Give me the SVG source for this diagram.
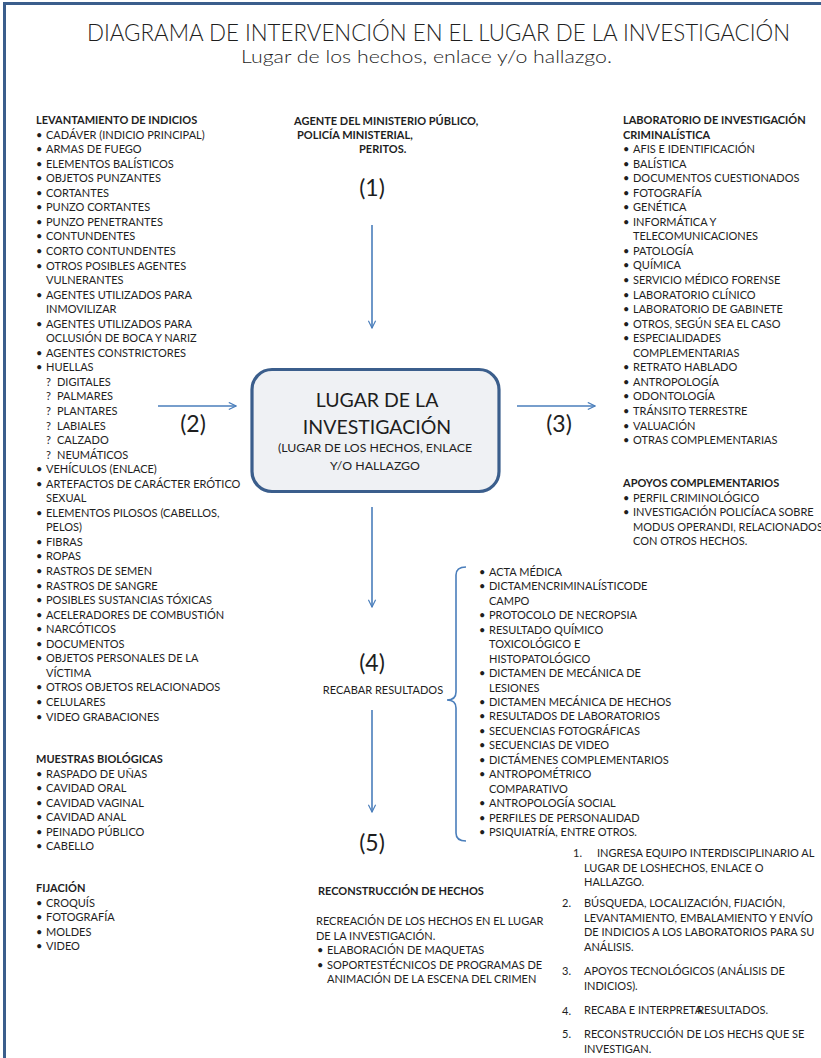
<svg xmlns="http://www.w3.org/2000/svg" width="821" height="1058" viewBox="0 0 821 1058">
  <defs>
    <style>
      .t { font-family: Lato, "Liberation Sans", sans-serif; font-size: 11px; fill: #1e1e1e; }
      .b { font-weight: bold; }
      .big { font-size: 19.5px; }
      .mid { font-size: 12.3px; }
      .num { font-family: Lato, "Liberation Sans", sans-serif; font-size: 23px; fill: #1e1e1e; }
      .ttl { font-family: Lato, "Liberation Sans", sans-serif; font-weight: 300; fill: #1e1e1e; }
      .arrow { stroke: #4A7EBB; stroke-width: 1.6; fill: none; marker-end: url(#open); }
      .brace { stroke: #4A7EBB; stroke-width: 1.6; fill: none; }
    </style>
    <marker id="open" viewBox="0 0 10 10" refX="9" refY="5" markerWidth="9" markerHeight="9" markerUnits="userSpaceOnUse" orient="auto">
      <path d="M1,1 L9,5 L1,9" fill="none" stroke="#4A7EBB" stroke-width="1.3"/>
    </marker>
  </defs>

  <rect width="821" height="1058" fill="#ffffff"/>
  <!-- page frame -->
  <path d="M4.5,1058 L4.5,3.5 L821,3.5" fill="none" stroke="#3B5E8C" stroke-width="3"/>

  <!-- title -->
  <g id="title">
    <text class="ttl" x="87" y="41" font-size="23" textLength="703" lengthAdjust="spacingAndGlyphs">DIAGRAMA DE INTERVENCIÓN EN EL LUGAR DE LA INVESTIGACIÓN</text>
    <text class="ttl" x="241" y="63" font-size="17" textLength="371" lengthAdjust="spacingAndGlyphs">Lugar de los hechos, enlace y/o hallazgo.</text>
  </g>

  <!-- connectors -->
  <g id="connectors">
    <line class="arrow" x1="372" y1="225" x2="372" y2="328"/>
    <line class="arrow" x1="158" y1="406" x2="236" y2="406"/>
    <line class="arrow" x1="517" y1="406" x2="595" y2="406"/>
    <line class="arrow" x1="372" y1="507" x2="372" y2="607"/>
    <line class="arrow" x1="372" y1="710" x2="372" y2="812"/>
    <path class="brace" d="M466,567 Q456,567 456,575 L456,692 Q456,700 447,700 Q456,700 456,708 L456,833 Q456,841 466,841"/>
  </g>

  <!-- step numbers -->
  <g id="step-labels">
    <text class="num" x="372" y="196" text-anchor="middle">(1)</text>
    <text class="num" x="193" y="432" text-anchor="middle">(2)</text>
    <text class="num" x="559" y="432" text-anchor="middle">(3)</text>
    <text class="num" x="372" y="671" text-anchor="middle">(4)</text>
    <text class="num" x="372" y="851" text-anchor="middle">(5)</text>
    <text class="t" x="383" y="694" text-anchor="middle">RECABAR RESULTADOS</text>
  </g>

  <!-- central node -->
  <g id="lugar-investigacion">
    <rect x="252" y="369.5" width="247" height="122" rx="20" ry="20" fill="#EFF1F4" stroke="#3B5E8C" stroke-width="3.2"/>
    <text class="t big" x="377" y="407" text-anchor="middle">LUGAR DE LA</text>
    <text class="t big" x="377" y="434" text-anchor="middle">INVESTIGACIÓN</text>
    <text class="t mid" x="375" y="452" text-anchor="middle">(LUGAR DE LOS HECHOS, ENLACE</text>
    <text class="t mid" x="375" y="470" text-anchor="middle">Y/O HALLAZGO</text>
  </g>

  <!-- (1) agents -->
  <g id="agentes">
    <text class="t b" x="294" y="125">AGENTE DEL MINISTERIO PÚBLICO,</text>
    <text class="t b" x="297" y="139">POLICÍA MINISTERIAL,</text>
    <text class="t b" x="359" y="153">PERITOS.</text>
  </g>

  <!-- (2) evidence collection -->
  <g id="levantamiento-indicios">
    <text class="t b" x="36" y="124">LEVANTAMIENTO DE INDICIOS</text>
    <text class="t" x="36" y="124">
      <tspan x="36" dy="14.55">•</tspan><tspan x="46">CADÁVER (INDICIO PRINCIPAL)</tspan>
      <tspan x="36" dy="14.55">•</tspan><tspan x="46">ARMAS DE FUEGO</tspan>
      <tspan x="36" dy="14.55">•</tspan><tspan x="46">ELEMENTOS BALÍSTICOS</tspan>
      <tspan x="36" dy="14.55">•</tspan><tspan x="46">OBJETOS PUNZANTES</tspan>
      <tspan x="36" dy="14.55">•</tspan><tspan x="46">CORTANTES</tspan>
      <tspan x="36" dy="14.55">•</tspan><tspan x="46">PUNZO CORTANTES</tspan>
      <tspan x="36" dy="14.55">•</tspan><tspan x="46">PUNZO PENETRANTES</tspan>
      <tspan x="36" dy="14.55">•</tspan><tspan x="46">CONTUNDENTES</tspan>
      <tspan x="36" dy="14.55">•</tspan><tspan x="46">CORTO CONTUNDENTES</tspan>
      <tspan x="36" dy="14.55">•</tspan><tspan x="46">OTROS POSIBLES AGENTES</tspan>
      <tspan x="46" dy="14.55">VULNERANTES</tspan>
      <tspan x="36" dy="14.55">•</tspan><tspan x="46">AGENTES UTILIZADOS PARA</tspan>
      <tspan x="46" dy="14.55">INMOVILIZAR</tspan>
      <tspan x="36" dy="14.55">•</tspan><tspan x="46">AGENTES UTILIZADOS PARA</tspan>
      <tspan x="46" dy="14.55">OCLUSIÓN DE BOCA Y NARIZ</tspan>
      <tspan x="36" dy="14.55">•</tspan><tspan x="46">AGENTES CONSTRICTORES</tspan>
      <tspan x="36" dy="14.55">•</tspan><tspan x="46">HUELLAS</tspan>
      <tspan x="46" dy="14.55">?</tspan><tspan x="57">DIGITALES</tspan>
      <tspan x="46" dy="14.55">?</tspan><tspan x="57">PALMARES</tspan>
      <tspan x="46" dy="14.55">?</tspan><tspan x="57">PLANTARES</tspan>
      <tspan x="46" dy="14.55">?</tspan><tspan x="57">LABIALES</tspan>
      <tspan x="46" dy="14.55">?</tspan><tspan x="57">CALZADO</tspan>
      <tspan x="46" dy="14.55">?</tspan><tspan x="57">NEUMÁTICOS</tspan>
      <tspan x="36" dy="14.55">•</tspan><tspan x="46">VEHÍCULOS (ENLACE)</tspan>
      <tspan x="36" dy="14.55">•</tspan><tspan x="46">ARTEFACTOS DE CARÁCTER ERÓTICO</tspan>
      <tspan x="46" dy="14.55">SEXUAL</tspan>
      <tspan x="36" dy="14.55">•</tspan><tspan x="46">ELEMENTOS PILOSOS (CABELLOS,</tspan>
      <tspan x="46" dy="14.55">PELOS)</tspan>
      <tspan x="36" dy="14.55">•</tspan><tspan x="46">FIBRAS</tspan>
      <tspan x="36" dy="14.55">•</tspan><tspan x="46">ROPAS</tspan>
      <tspan x="36" dy="14.55">•</tspan><tspan x="46">RASTROS DE SEMEN</tspan>
      <tspan x="36" dy="14.55">•</tspan><tspan x="46">RASTROS DE SANGRE</tspan>
      <tspan x="36" dy="14.55">•</tspan><tspan x="46">POSIBLES SUSTANCIAS TÓXICAS</tspan>
      <tspan x="36" dy="14.55">•</tspan><tspan x="46">ACELERADORES DE COMBUSTIÓN</tspan>
      <tspan x="36" dy="14.55">•</tspan><tspan x="46">NARCÓTICOS</tspan>
      <tspan x="36" dy="14.55">•</tspan><tspan x="46">DOCUMENTOS</tspan>
      <tspan x="36" dy="14.55">•</tspan><tspan x="46">OBJETOS PERSONALES DE LA</tspan>
      <tspan x="46" dy="14.55">VÍCTIMA</tspan>
      <tspan x="36" dy="14.55">•</tspan><tspan x="46">OTROS OBJETOS RELACIONADOS</tspan>
      <tspan x="36" dy="14.55">•</tspan><tspan x="46">CELULARES</tspan>
      <tspan x="36" dy="14.55">•</tspan><tspan x="46">VIDEO GRABACIONES</tspan>
    </text>
  </g>

  <g id="muestras-biologicas">
    <text class="t b" x="36" y="763">MUESTRAS BIOLÓGICAS</text>
    <text class="t" x="36" y="763">
      <tspan x="36" dy="14.55">•</tspan><tspan x="46">RASPADO DE UÑAS</tspan>
      <tspan x="36" dy="14.55">•</tspan><tspan x="46">CAVIDAD ORAL</tspan>
      <tspan x="36" dy="14.55">•</tspan><tspan x="46">CAVIDAD VAGINAL</tspan>
      <tspan x="36" dy="14.55">•</tspan><tspan x="46">CAVIDAD ANAL</tspan>
      <tspan x="36" dy="14.55">•</tspan><tspan x="46">PEINADO PÚBLICO</tspan>
      <tspan x="36" dy="14.55">•</tspan><tspan x="46">CABELLO</tspan>
    </text>
  </g>

  <g id="fijacion">
    <text class="t b" x="36" y="892">FIJACIÓN</text>
    <text class="t" x="36" y="892">
      <tspan x="36" dy="14.55">•</tspan><tspan x="46">CROQUÍS</tspan>
      <tspan x="36" dy="14.55">•</tspan><tspan x="46">FOTOGRAFÍA</tspan>
      <tspan x="36" dy="14.55">•</tspan><tspan x="46">MOLDES</tspan>
      <tspan x="36" dy="14.55">•</tspan><tspan x="46">VIDEO</tspan>
    </text>
  </g>

  <!-- (3) laboratories -->
  <g id="laboratorio">
    <text class="t b" x="623" y="124">LABORATORIO DE INVESTIGACIÓN</text>
    <text class="t b" x="623" y="138.5">CRIMINALÍSTICA</text>
    <text class="t" x="623" y="138.5">
      <tspan x="623" dy="14.55">•</tspan><tspan x="633">AFIS E IDENTIFICACIÓN</tspan>
      <tspan x="623" dy="14.55">•</tspan><tspan x="633">BALÍSTICA</tspan>
      <tspan x="623" dy="14.55">•</tspan><tspan x="633">DOCUMENTOS CUESTIONADOS</tspan>
      <tspan x="623" dy="14.55">•</tspan><tspan x="633">FOTOGRAFÍA</tspan>
      <tspan x="623" dy="14.55">•</tspan><tspan x="633">GENÉTICA</tspan>
      <tspan x="623" dy="14.55">•</tspan><tspan x="633">INFORMÁTICA Y</tspan>
      <tspan x="633" dy="14.55">TELECOMUNICACIONES</tspan>
      <tspan x="623" dy="14.55">•</tspan><tspan x="633">PATOLOGÍA</tspan>
      <tspan x="623" dy="14.55">•</tspan><tspan x="633">QUÍMICA</tspan>
      <tspan x="623" dy="14.55">•</tspan><tspan x="633">SERVICIO MÉDICO FORENSE</tspan>
      <tspan x="623" dy="14.55">•</tspan><tspan x="633">LABORATORIO CLÍNICO</tspan>
      <tspan x="623" dy="14.55">•</tspan><tspan x="633">LABORATORIO DE GABINETE</tspan>
      <tspan x="623" dy="14.55">•</tspan><tspan x="633">OTROS, SEGÚN SEA EL CASO</tspan>
      <tspan x="623" dy="14.55">•</tspan><tspan x="633">ESPECIALIDADES</tspan>
      <tspan x="633" dy="14.55">COMPLEMENTARIAS</tspan>
      <tspan x="623" dy="14.55">•</tspan><tspan x="633">RETRATO HABLADO</tspan>
      <tspan x="623" dy="14.55">•</tspan><tspan x="633">ANTROPOLOGÍA</tspan>
      <tspan x="623" dy="14.55">•</tspan><tspan x="633">ODONTOLOGÍA</tspan>
      <tspan x="623" dy="14.55">•</tspan><tspan x="633">TRÁNSITO TERRESTRE</tspan>
      <tspan x="623" dy="14.55">•</tspan><tspan x="633">VALUACIÓN</tspan>
      <tspan x="623" dy="14.55">•</tspan><tspan x="633">OTRAS COMPLEMENTARIAS</tspan>
    </text>
  </g>

  <g id="apoyos">
    <text class="t b" x="623" y="487">APOYOS COMPLEMENTARIOS</text>
    <text class="t" x="623" y="487">
      <tspan x="623" dy="14.55">•</tspan><tspan x="633">PERFIL CRIMINOLÓGICO</tspan>
      <tspan x="623" dy="14.55">•</tspan><tspan x="633">INVESTIGACIÓN POLICÍACA SOBRE</tspan>
      <tspan x="633" dy="14.55">MODUS OPERANDI, RELACIONADOS</tspan>
      <tspan x="633" dy="14.55">CON OTROS HECHOS.</tspan>
    </text>
  </g>

  <!-- (4) results -->
  <g id="resultados">
    <text class="t" x="479" y="561.5">
      <tspan x="479" dy="14.45">•</tspan><tspan x="489">ACTA MÉDICA</tspan>
      <tspan x="479" dy="14.45">•</tspan><tspan x="489">DICTAMENCRIMINALÍSTICODE</tspan>
      <tspan x="489" dy="14.45">CAMPO</tspan>
      <tspan x="479" dy="14.45">•</tspan><tspan x="489">PROTOCOLO DE NECROPSIA</tspan>
      <tspan x="479" dy="14.45">•</tspan><tspan x="489">RESULTADO QUÍMICO</tspan>
      <tspan x="489" dy="14.45">TOXICOLÓGICO E</tspan>
      <tspan x="489" dy="14.45">HISTOPATOLÓGICO</tspan>
      <tspan x="479" dy="14.45">•</tspan><tspan x="489">DICTAMEN DE MECÁNICA DE</tspan>
      <tspan x="489" dy="14.45">LESIONES</tspan>
      <tspan x="479" dy="14.45">•</tspan><tspan x="489">DICTAMEN MECÁNICA DE HECHOS</tspan>
      <tspan x="479" dy="14.45">•</tspan><tspan x="489">RESULTADOS DE LABORATORIOS</tspan>
      <tspan x="479" dy="14.45">•</tspan><tspan x="489">SECUENCIAS FOTOGRÁFICAS</tspan>
      <tspan x="479" dy="14.45">•</tspan><tspan x="489">SECUENCIAS DE VIDEO</tspan>
      <tspan x="479" dy="14.45">•</tspan><tspan x="489">DICTÁMENES COMPLEMENTARIOS</tspan>
      <tspan x="479" dy="14.45">•</tspan><tspan x="489">ANTROPOMÉTRICO</tspan>
      <tspan x="489" dy="14.45">COMPARATIVO</tspan>
      <tspan x="479" dy="14.45">•</tspan><tspan x="489">ANTROPOLOGÍA SOCIAL</tspan>
      <tspan x="479" dy="14.45">•</tspan><tspan x="489">PERFILES DE PERSONALIDAD</tspan>
      <tspan x="479" dy="14.45">•</tspan><tspan x="489">PSIQUIATRÍA, ENTRE OTROS.</tspan>
    </text>
  </g>

  <!-- (5) reconstruction -->
  <g id="reconstruccion">
    <text class="t b" x="318" y="895">RECONSTRUCCIÓN DE HECHOS</text>
    <text class="t" x="316" y="925">RECREACIÓN DE LOS HECHOS EN EL LUGAR</text>
    <text class="t" x="316" y="939.5">DE LA INVESTIGACIÓN.</text>
    <text class="t" x="316" y="939.5">
      <tspan x="317" dy="14.55">•</tspan><tspan x="327">ELABORACIÓN DE MAQUETAS</tspan>
      <tspan x="317" dy="14.55">•</tspan><tspan x="327">SOPORTESTÉCNICOS DE PROGRAMAS DE</tspan>
      <tspan x="327" dy="14.55">ANIMACIÓN DE LA ESCENA DEL CRIMEN</tspan>
    </text>
  </g>

  <!-- process summary -->
  <g id="pasos">
    <text class="t" x="573" y="857">1.</text>
    <text class="t" x="597" y="857">INGRESA EQUIPO INTERDISCIPLINARIO AL</text>
    <text class="t" x="584" y="871.5">LUGAR DE LOSHECHOS, ENLACE O</text>
    <text class="t" x="584" y="886">HALLAZGO.</text>

    <text class="t" x="562" y="907">2.</text>
    <text class="t" x="584" y="907">BÚSQUEDA, LOCALIZACIÓN, FIJACIÓN,</text>
    <text class="t" x="584" y="921.5">LEVANTAMIENTO, EMBALAMIENTO Y ENVÍO</text>
    <text class="t" x="584" y="936">DE INDICIOS A LOS LABORATORIOS PARA SU</text>
    <text class="t" x="584" y="950.5">ANÁLISIS.</text>

    <text class="t" x="562" y="975">3.</text>
    <text class="t" x="584" y="975">APOYOS TECNOLÓGICOS (ANÁLISIS DE</text>
    <text class="t" x="584" y="989.5">INDICIOS).</text>

    <text class="t" x="562" y="1015">4.</text>
    <text class="t" x="584" y="1014">RECABA E INTERPRETA<tspan dx="-5">RESULTADOS.</tspan></text>

    <text class="t" x="562" y="1038">5.</text>
    <text class="t" x="584" y="1038">RECONSTRUCCIÓN DE LOS HECHS QUE SE</text>
    <text class="t" x="584" y="1052.5">INVESTIGAN.</text>
  </g>
</svg>
